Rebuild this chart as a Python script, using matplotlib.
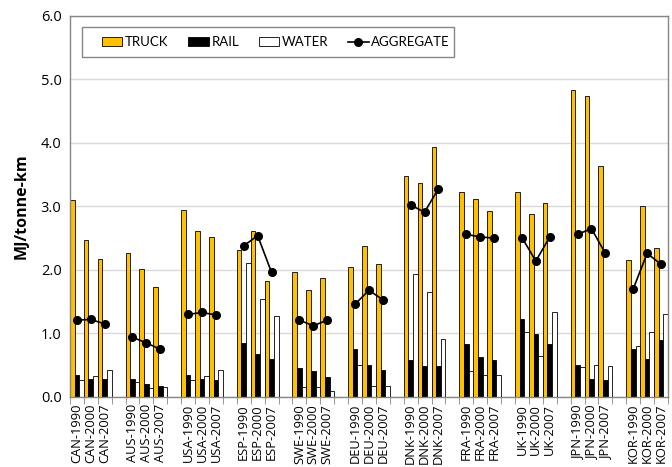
import matplotlib.pyplot as plt
from matplotlib.patches import Rectangle
import numpy as np

countries = ["CAN", "AUS", "USA", "ESP", "SWE", "DEU", "DNK", "FRA", "UK", "JPN", "KOR"]
years = ["1990", "2000", "2007"]

truck = [3.10, 2.47, 2.17, 2.26, 2.01, 1.73, 2.95, 2.61, 2.52, 2.31, 2.62, 1.82,
         1.96, 1.68, 1.87, 2.05, 2.37, 2.10, 3.48, 3.37, 3.93, 3.22, 3.11, 2.92,
         3.23, 2.88, 3.05, 4.83, 4.74, 3.64, 2.16, 3.00, 2.35]
rail = [0.35, 0.28, 0.28, 0.28, 0.20, 0.18, 0.35, 0.29, 0.26, 0.85, 0.68, 0.60,
        0.45, 0.41, 0.32, 0.76, 0.51, 0.43, 0.58, 0.49, 0.48, 0.83, 0.63, 0.58,
        1.22, 0.99, 0.83, 0.51, 0.29, 0.26, 0.75, 0.60, 0.90]
water = [0.27, 0.33, 0.43, 0.24, 0.14, 0.15, 0.26, 0.33, 0.43, 2.11, 1.54, 1.28,
         0.16, 0.16, 0.09, 0.51, 0.18, 0.18, 1.94, 1.65, 0.92, 0.41, 0.35, 0.35,
         1.03, 0.65, 1.34, 0.47, 0.50, 0.48, 0.81, 1.03, 1.31]
aggregate = [1.21, 1.22, 1.15, 0.94, 0.85, 0.75, 1.30, 1.33, 1.29, 2.38, 2.54, 1.96,
             1.21, 1.12, 1.21, 1.46, 1.68, 1.53, 3.02, 2.91, 3.28, 2.56, 2.52, 2.50,
             2.51, 2.14, 2.52, 2.56, 2.65, 2.26, 1.70, 2.26, 2.09]

plt.rcParams['font.family'] = ['Open Sans', 'DejaVu Sans']

# positions: 3 categories per country, one blank slot between countries
pos = []
labels = []
for i, c in enumerate(countries):
    for j, y in enumerate(years):
        pos.append(i * 4 + j)
        labels.append(c + "-" + y)
pos = np.array(pos, dtype=float)
ncat = len(countries) * 4 - 1

fig = plt.figure(figsize=(6.72, 4.67), dpi=100)
ax = fig.add_axes([0.104, 0.150, 0.890, 0.816])

w = 1 / 3
h1 = ax.bar(pos - 0.5 + w / 2, truck, w, color="#FFC000", edgecolor="black", linewidth=0.6, zorder=2)
h2 = ax.bar(pos - 0.5 + 1.5 * w, rail, w, color="black", edgecolor="black", linewidth=0.6, zorder=2)
h3 = ax.bar(pos - 0.5 + 2.5 * w, water, w, color="white", edgecolor="black", linewidth=0.6, zorder=2)

for i in range(len(countries)):
    sl = slice(i * 3, i * 3 + 3)
    h4, = ax.plot(pos[sl], aggregate[sl], color="black", marker="o", markersize=5.5, linewidth=1.2,
                  zorder=3)

ax.set_xlim(-0.5, ncat - 0.5)
ax.set_ylim(0, 6)
ax.set_yticks(np.arange(0, 6.1, 1))
ax.set_yticklabels([f"{v:.1f}" for v in np.arange(0, 6.1, 1)], fontsize=10.5)
ax.yaxis.grid(True, color="#d9d9d9", linewidth=1, zorder=0)
ax.set_axisbelow(True)
ax.tick_params(axis="y", length=0, pad=6)

ax.set_xticks(pos)
ax.set_xticklabels(labels, rotation=90, fontsize=9.3)
ax.tick_params(axis="x", which="major", length=0, pad=5)
ax.set_xticks(np.arange(-0.5, ncat, 1), minor=True)
ax.tick_params(axis="x", which="minor", length=5, color="#868686")

for s in ax.spines.values():
    s.set_color("#868686")
    s.set_linewidth(1)

ax.set_ylabel("MJ/tonne-km", fontsize=11.5, fontweight="bold", labelpad=8)

# legend box drawn separately so the inner padding can match
ax.add_patch(Rectangle((0.020, 0.892), 0.622, 0.0787, transform=ax.transAxes,
                       facecolor="white", edgecolor="#868686", linewidth=1, zorder=4))
leg = ax.legend([h1, h2, h3, h4], ["TRUCK", "RAIL", "WATER", "AGGREGATE"],
                loc="center left", bbox_to_anchor=(0.0535, 0.931), ncol=4,
                prop={"family": "Lato", "size": 9.5},
                frameon=False, handlelength=1.55,
                handleheight=0.6, handletextpad=0.2, columnspacing=1.5, borderpad=0,
                borderaxespad=0)
leg.set_zorder(5)

fig.savefig("out.png", dpi=100)
